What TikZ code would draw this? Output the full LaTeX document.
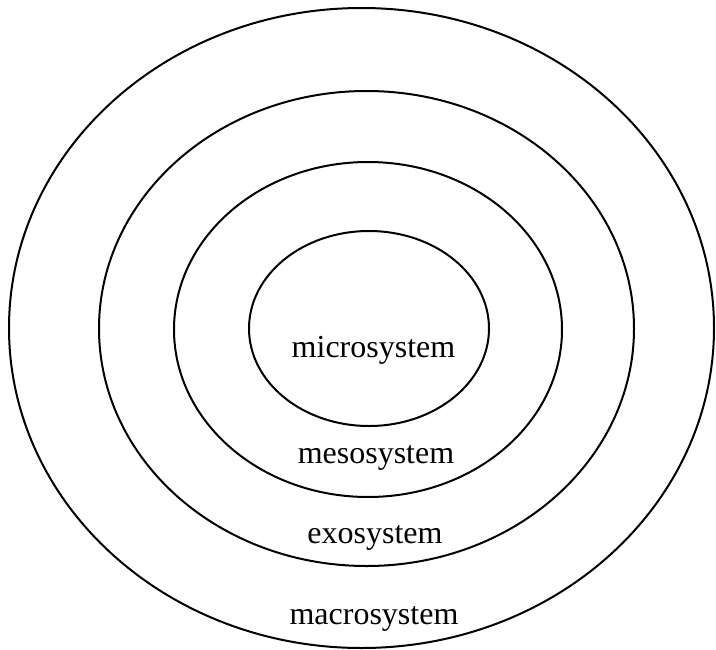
\documentclass[tikz,border=0pt]{standalone}
\usepackage{fontspec}
\setmainfont{Liberation Serif}
\begin{document}
\begin{tikzpicture}[x=1pt,y=1pt,
  ring/.style={draw=black, line width=2pt},
  lbl/.style={anchor=base, inner sep=0pt, font=\fontsize{32}{38}\selectfont}]
\useasboundingbox (0,0) rectangle (716,-649);
\draw[ring] (361.5,-328) ellipse [x radius=352.5, y radius=320];
\draw[ring] (366.5,-328.5) ellipse [x radius=267.5, y radius=237.5];
\draw[ring] (368,-329.5) ellipse [x radius=194, y radius=167.5];
\draw[ring] (369,-328.5) ellipse [x radius=120, y radius=97.5];
\node[lbl] (micro) at (373.5,-357) {microsystem};
\node[lbl] (meso) at (376,-463) {mesosystem};
\node[lbl] (exo) at (375,-543) {exosystem};
\node[lbl] (macro) at (374,-624) {macrosystem};
\end{tikzpicture}
\end{document}
